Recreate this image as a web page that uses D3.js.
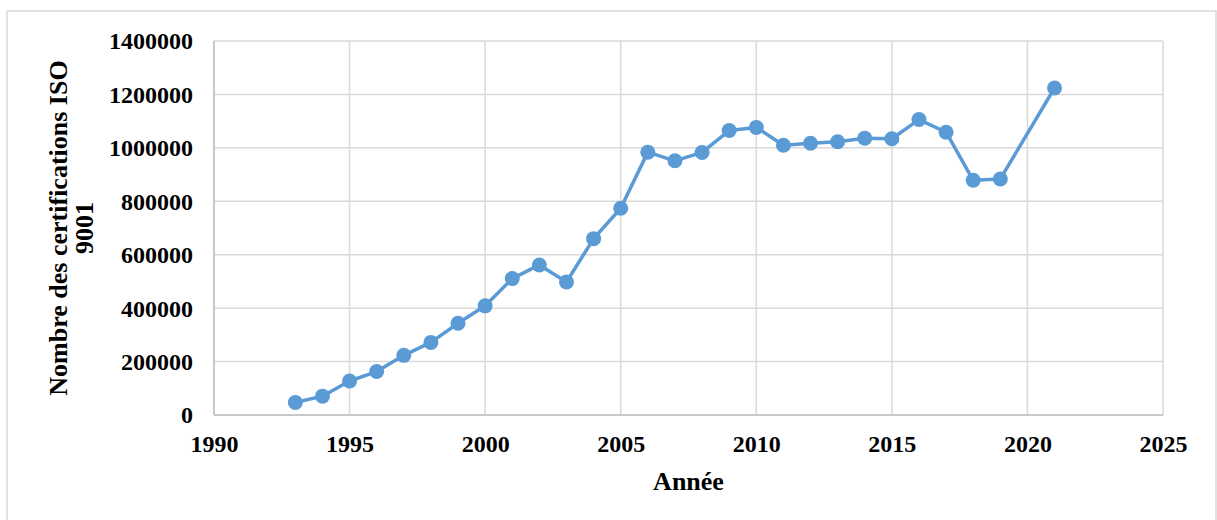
<!DOCTYPE html>
<html><head><meta charset="utf-8">
<script src="https://cdn.jsdelivr.net/npm/d3@7/dist/d3.min.js"></script>
<style>body{margin:0;background:#fff}svg{display:block}</style>
</head><body>
<svg id="c" width="1217" height="520"></svg>
<script>
const years = [1993,1994,1995,1996,1997,1998,1999,2000,2001,2002,2003,2004,2005,2006,2007,2008,2009,2010,2011,2012,2013,2014,2015,2016,2017,2018,2019,2021];
const certifications = [46571,70517,127349,162701,223299,271847,343643,408631,510616,561747,497919,660132,773867,984000,951486,982832,1064785,1076525,1010000,1017279,1022877,1036321,1033936,1105937,1058504,878664,883521,1224000];
const xTicks = [1990,1995,2000,2005,2010,2015,2020,2025];
const yTicks = [0,200000,400000,600000,800000,1000000,1200000,1400000];
const xTitle = "Année";
const yTitleLines = ["Nombre des certifications ISO","9001"];

const svg = d3.select("#c");
const W=1217,H=520;
const m={l:214,r:1163,t:41,b:415};
const font="'Liberation Serif','Times New Roman',serif";

svg.append("rect").attr("x",7).attr("y",11).attr("width",1209).attr("height",520)
  .attr("fill","#fff").attr("stroke","#d9d9d9").attr("stroke-width",1.5);

const x=d3.scaleLinear().domain([1990,2025]).range([m.l,m.r]);
const y=d3.scaleLinear().domain([0,1400000]).range([m.b,m.t]);

const g=svg.append("g");
// grid
g.selectAll(".hg").data(yTicks).join("line")
  .attr("x1",m.l).attr("x2",m.r).attr("y1",d=>y(d)).attr("y2",d=>y(d))
  .attr("stroke","#d9d9d9").attr("stroke-width",1.5);
g.selectAll(".vg").data(xTicks).join("line")
  .attr("y1",m.t).attr("y2",m.b).attr("x1",d=>x(d)).attr("x2",d=>x(d))
  .attr("stroke","#d9d9d9").attr("stroke-width",1.5);
// axis lines
g.append("line").attr("x1",m.l).attr("x2",m.r).attr("y1",m.b).attr("y2",m.b).attr("stroke","#bfbfbf").attr("stroke-width",1.5);
g.append("line").attr("x1",m.l).attr("x2",m.l).attr("y1",m.t).attr("y2",m.b).attr("stroke","#bfbfbf").attr("stroke-width",1.5);

// axes labels via d3 axes
const ya=svg.append("g").attr("transform",`translate(${m.l-21},0)`)
  .call(d3.axisLeft(y).tickValues(yTicks).tickSize(0).tickPadding(0).tickFormat(d=>String(d)));
ya.select(".domain").remove();
ya.selectAll("text").attr("font-family",font).attr("font-weight","bold").attr("font-size",24).attr("fill","#000").attr("dy","0.33em");

const xa=svg.append("g").attr("transform",`translate(0,${m.b})`)
  .call(d3.axisBottom(x).tickValues(xTicks).tickSize(0).tickPadding(20).tickFormat(d=>String(d)));
xa.select(".domain").remove();
xa.selectAll("text").attr("font-family",font).attr("font-weight","bold").attr("font-size",24).attr("fill","#000");

svg.append("text").attr("x",(m.l+m.r)/2).attr("y",490).attr("text-anchor","middle")
  .attr("font-family",font).attr("font-weight","bold").attr("font-size",26).text(xTitle);

const yt=svg.append("text").attr("transform",`translate(67,${(m.t+m.b)/2}) rotate(-90)`)
  .attr("text-anchor","middle").attr("font-family",font).attr("font-weight","bold").attr("font-size",26);
yTitleLines.forEach((t,i)=>yt.append("tspan").attr("x",0).attr("dy",i?26:0).text(t));

// line + markers
const data=years.map((yr,i)=>({yr,v:certifications[i]}));
svg.append("path").datum(data).attr("fill","none").attr("stroke","#5b9bd5").attr("stroke-width",3.5)
  .attr("stroke-linejoin","round").attr("d",d3.line().x(d=>x(d.yr)).y(d=>y(d.v)));
svg.selectAll(".pt").data(data).join("circle").attr("cx",d=>x(d.yr)).attr("cy",d=>y(d.v)).attr("r",7.5).attr("fill","#5b9bd5");
</script>
</body></html>
